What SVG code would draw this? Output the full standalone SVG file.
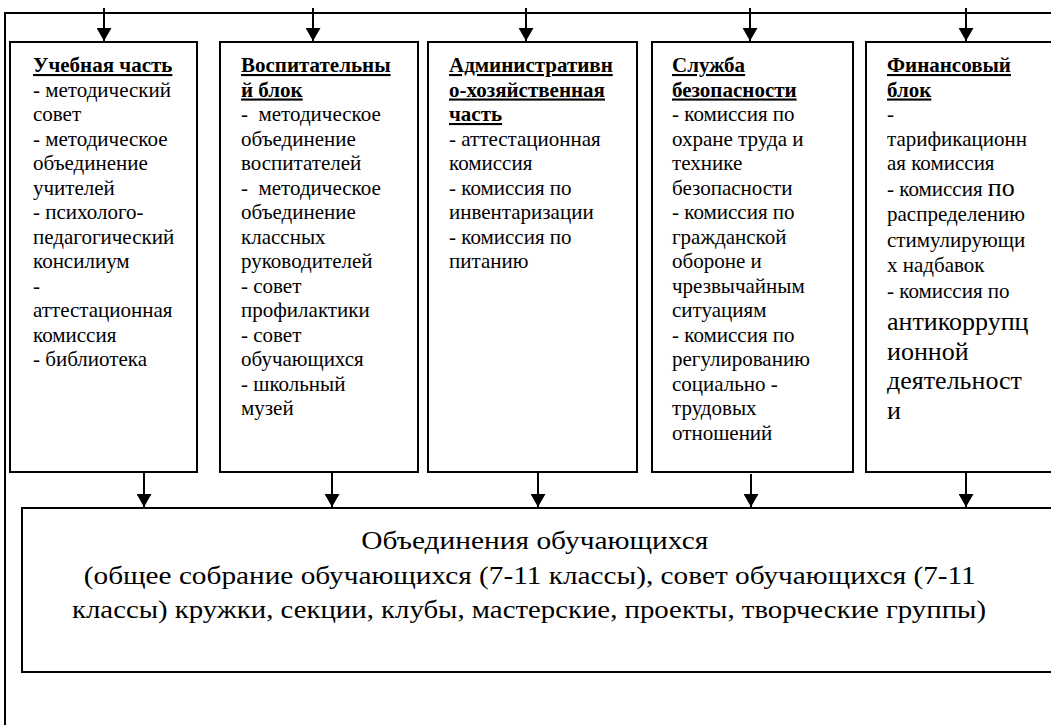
<svg xmlns="http://www.w3.org/2000/svg" width="1051" height="725" viewBox="0 0 1051 725">
<defs>
<marker id="ah" markerWidth="13" markerHeight="15" refX="13" refY="7.5" orient="auto" markerUnits="userSpaceOnUse" viewBox="0 0 13 15">
<path d="M0,0 L13,7.5 L0,15 Z" fill="#000"/>
</marker>
</defs>
<style>
.box{fill:#fff;stroke:#000;stroke-width:2}
.ln{stroke:#000;stroke-width:2;fill:none}
.ar{stroke:#000;stroke-width:2;fill:none;marker-end:url(#ah)}
.t{font-family:'Liberation Serif','Times New Roman',serif;font-size:21px;fill:#000}
.h{font-weight:bold;text-decoration:underline}
.big{font-size:26px}
.bt{font-family:'Liberation Serif','Times New Roman',serif;font-size:26px;fill:#000}
</style>
<rect width="1051" height="725" fill="#fff"/>
<g id="connectors">
<line class="ln" x1="4" y1="13" x2="1051" y2="13"/>
<line class="ln" x1="5" y1="13" x2="5" y2="725"/>
<line class="ar" x1="104" y1="8" x2="104" y2="41"/>
<line class="ar" x1="313" y1="8" x2="313" y2="41"/>
<line class="ar" x1="526" y1="8" x2="526" y2="41"/>
<line class="ar" x1="750" y1="8" x2="750" y2="41"/>
<line class="ar" x1="966" y1="8" x2="966" y2="41"/>
<line class="ar" x1="144" y1="472" x2="144" y2="507"/>
<line class="ar" x1="332" y1="472" x2="332" y2="507"/>
<line class="ar" x1="538" y1="472" x2="538" y2="507"/>
<line class="ar" x1="751" y1="474" x2="751" y2="507"/>
<line class="ar" x1="966" y1="472" x2="966" y2="507"/>
</g>
<g id="node-uchebnaya">
<rect class="box" x="10" y="42" width="187" height="430"/>
<text class="t" xml:space="preserve">
<tspan class="h" x="33" y="72">Учебная часть</tspan>
<tspan x="33" y="96.5">- методический</tspan>
<tspan x="33" y="121">совет</tspan>
<tspan x="33" y="145.5">- методическое</tspan>
<tspan x="33" y="170">объединение</tspan>
<tspan x="33" y="194.5">учителей</tspan>
<tspan x="33" y="219">- психолого-</tspan>
<tspan x="33" y="243.5">педагогический</tspan>
<tspan x="33" y="268">консилиум</tspan>
<tspan x="33" y="292.5">-</tspan>
<tspan x="33" y="317">аттестационная</tspan>
<tspan x="33" y="341.5">комиссия</tspan>
<tspan x="33" y="366">- библиотека</tspan>
</text>
</g>
<g id="node-vospitatelny">
<rect class="box" x="220" y="42" width="198" height="430"/>
<text class="t" xml:space="preserve">
<tspan class="h" x="241" y="72">Воспитательны</tspan>
<tspan class="h" x="241" y="96.5">й блок</tspan>
<tspan x="241" y="121">-  методическое</tspan>
<tspan x="241" y="145.5">объединение</tspan>
<tspan x="241" y="170">воспитателей</tspan>
<tspan x="241" y="194.5">-  методическое</tspan>
<tspan x="241" y="219">объединение</tspan>
<tspan x="241" y="243.5">классных</tspan>
<tspan x="241" y="268">руководителей</tspan>
<tspan x="241" y="292.5">- совет</tspan>
<tspan x="241" y="317">профилактики</tspan>
<tspan x="241" y="341.5">- совет</tspan>
<tspan x="241" y="366">обучающихся</tspan>
<tspan x="241" y="390.5">- школьный</tspan>
<tspan x="241" y="415">музей</tspan>
</text>
</g>
<g id="node-admin">
<rect class="box" x="428" y="42" width="209" height="430"/>
<text class="t" xml:space="preserve">
<tspan class="h" x="449" y="72">Административн</tspan>
<tspan class="h" x="449" y="96.5">о-хозяйственная</tspan>
<tspan class="h" x="449" y="121">часть</tspan>
<tspan x="449" y="145.5">- аттестационная</tspan>
<tspan x="449" y="170">комиссия</tspan>
<tspan x="449" y="194.5">- комиссия по</tspan>
<tspan x="449" y="219">инвентаризации</tspan>
<tspan x="449" y="243.5">- комиссия по</tspan>
<tspan x="449" y="268">питанию</tspan>
</text>
</g>
<g id="node-security">
<rect class="box" x="652" y="42" width="201" height="430"/>
<text class="t" xml:space="preserve">
<tspan class="h" x="672" y="72">Служба</tspan>
<tspan class="h" x="672" y="96.5">безопасности</tspan>
<tspan x="672" y="121">- комиссия по</tspan>
<tspan x="672" y="145.5">охране труда и</tspan>
<tspan x="672" y="170">технике</tspan>
<tspan x="672" y="194.5">безопасности</tspan>
<tspan x="672" y="219">- комиссия по</tspan>
<tspan x="672" y="243.5">гражданской</tspan>
<tspan x="672" y="268">обороне и</tspan>
<tspan x="672" y="292.5">чрезвычайным</tspan>
<tspan x="672" y="317">ситуациям</tspan>
<tspan x="672" y="341.5">- комиссия по</tspan>
<tspan x="672" y="366">регулированию</tspan>
<tspan x="672" y="390.5">социально -</tspan>
<tspan x="672" y="415">трудовых</tspan>
<tspan x="672" y="439.5">отношений</tspan>
</text>
</g>
<g id="node-finance">
<rect class="box" x="866" y="42" width="200" height="430"/>
<text class="t" xml:space="preserve">
<tspan class="h" x="887" y="72">Финансовый</tspan>
<tspan class="h" x="887" y="96.5">блок</tspan>
<tspan x="887" y="121">-</tspan>
<tspan x="887" y="145.5">тарификационн</tspan>
<tspan x="887" y="170">ая комиссия</tspan>
<tspan x="887" y="196">- комиссия </tspan><tspan class="big">по</tspan>
<tspan x="887" y="221">распределению</tspan>
<tspan x="887" y="246.5">стимулирующи</tspan>
<tspan x="887" y="272">х надбавок</tspan>
<tspan x="887" y="298">- комиссия по</tspan>
<tspan class="big" x="887" y="330">антикоррупц</tspan>
<tspan class="big" x="887" y="360">ионной</tspan>
<tspan class="big" x="887" y="389">деятельност</tspan>
<tspan class="big" x="887" y="419">и</tspan>
</text>
</g>
<g id="node-obedineniya">
<rect class="box" x="22" y="508" width="1045" height="164"/>
<text class="bt" text-anchor="middle">
<tspan x="538" y="549" textLength="347" lengthAdjust="spacingAndGlyphs">Объединения обучающихся</tspan>
<tspan x="533" y="584" textLength="892" lengthAdjust="spacingAndGlyphs">(общее собрание обучающихся (7-11 классы), совет обучающихся (7-11</tspan>
<tspan x="529" y="618" textLength="914" lengthAdjust="spacingAndGlyphs">классы) кружки, секции, клубы, мастерские, проекты, творческие группы)</tspan>
</text>
</g>
</svg>
